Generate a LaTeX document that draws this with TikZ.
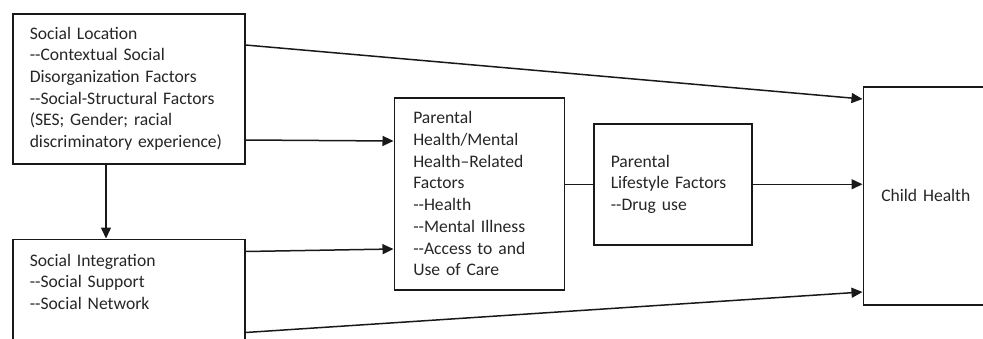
\documentclass[tikz,border=0pt]{standalone}
\usepackage{fontspec}
\setmainfont{Carlito}[Ligatures=TeXOff]
\usetikzlibrary{shapes,arrows.meta,positioning}
\tikzstyle{factor} = [rectangle, draw=black!90, line width=1.5pt, text=black!85,
    inner xsep=17pt, inner ysep=0pt, align=left, anchor=north west,
    font=\fontsize{17.6}{21.7}\selectfont]

\begin{document}
\begin{tikzpicture}[>={Triangle[length=11pt,width=10pt]}, line width=1.5pt, draw=black!90]
    \useasboundingbox (0pt,0pt) rectangle (983pt,-338pt);
    \clip (0pt,0pt) rectangle (983pt,-338pt);

    \node[factor, text width=198pt, minimum height=150pt] (socialLocation) at (12pt,-13pt)
        {Social Location\\--Contextual Social\\Disorganization Factors\\--Social-Structural Factors\\(SES; Gender; racial\\discriminatory experience)};
    \node[factor, text width=198pt, below=74pt of socialLocation, text height=15pt, text depth=110pt, inner ysep=12pt] (socialIntegration)
        {Social Integration\\--Social Support\\--Social Network};

    \node[factor, text width=132pt, inner xsep=19pt, minimum height=192pt, below right=84pt and 148pt of socialLocation.north east] (parental)
        {Parental\\Health/Mental\\Health–Related\\Factors\\--Health\\--Mental Illness\\--Access to and\\Use of Care};
    \node[factor, text width=124pt, minimum height=121pt, below right=26pt and 28pt of parental.north east] (lifestyle)
        {Parental\\Lifestyle Factors\\--Drug use};
    \node[factor, text width=130pt, inner xsep=18pt, minimum height=218pt, below right=-37pt and 110pt of lifestyle.north east] (childHealth)
        {Child Health};

    \path[draw,->] ([xshift=94pt]socialLocation.south west) -- ([xshift=94pt]socialIntegration.north west);

    \path[draw,->] ([yshift=-32pt]socialLocation.north east) -- ([yshift=-13pt]childHealth.north west);
    \path[draw,->] ([yshift=-127pt]socialLocation.north east) -- ([yshift=-44pt]parental.north west);
    \path[draw,->] ([yshift=-13pt]socialIntegration.north east) -- ([yshift=-152pt]parental.north west);
    \path[draw,->] ([yshift=-94pt]socialIntegration.north east) -- ([yshift=-206pt]childHealth.north west);

    \path[draw] (parental.east |- lifestyle.west) -- (lifestyle.west);
    \path[draw,->] (lifestyle.east) -- (childHealth.west |- lifestyle.east);
\end{tikzpicture}
\end{document}
